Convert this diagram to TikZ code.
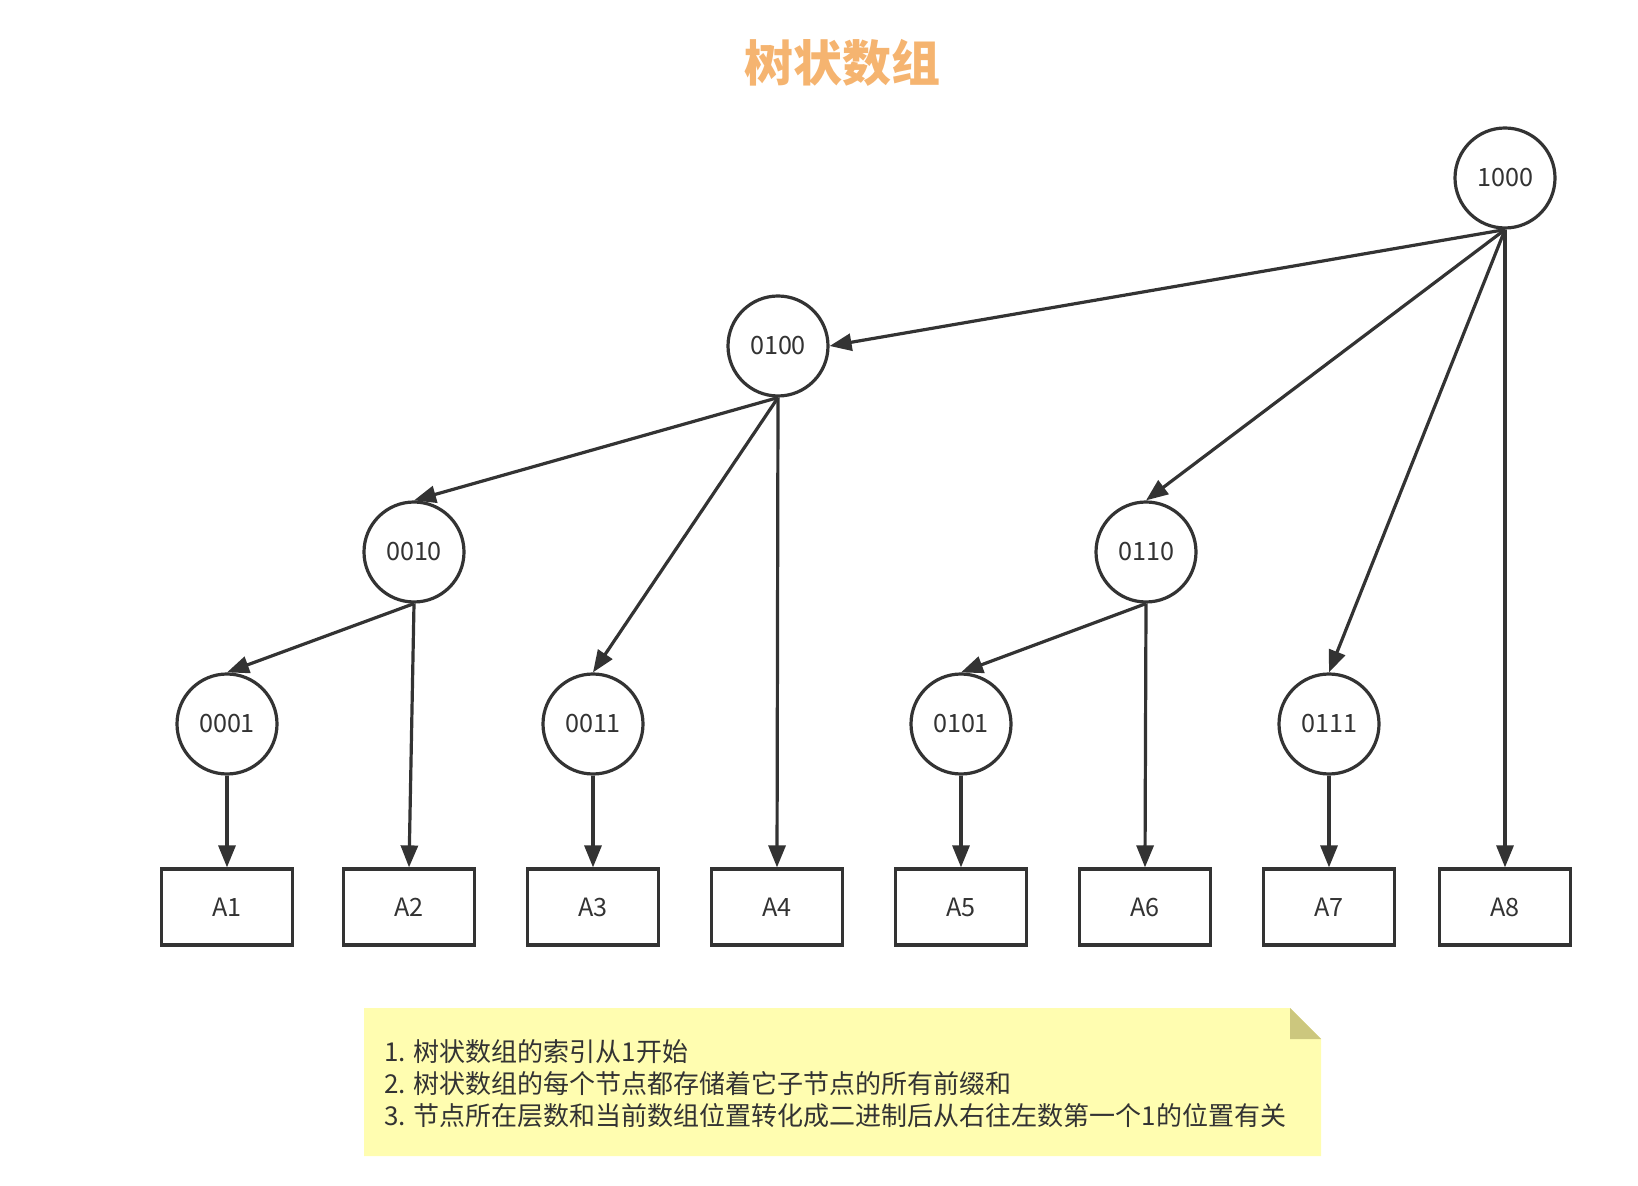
\documentclass[tikz,border=0pt]{standalone}
\usepackage{fontspec}
\setmainfont{Noto Sans CJK SC}
\usetikzlibrary{arrows.meta}
\definecolor{ink}{HTML}{333333}
\definecolor{titleorange}{HTML}{F5B470}
\definecolor{notefill}{HTML}{FFFDB0}
\definecolor{notefold}{HTML}{CCC77E}
\tikzset{
  bit/.style={circle, draw=ink, line width=1.6pt, minimum size=50pt, inner sep=0pt, text=ink, font=\fontsize{12.6pt}{14pt}\selectfont},
  cell/.style={rectangle, draw=ink, line width=1.6pt, minimum width=65.5pt, minimum height=38pt, inner sep=0pt, text=ink, font=\fontsize{12.6pt}{14pt}\selectfont},
  link/.style={-{Triangle[length=11pt,width=8.5pt]}, draw=ink, line width=1.6pt},
  title text/.style={font=\fontsize{24.5pt}{28pt}\selectfont\bfseries, text=titleorange},
  note text/.style={align=left, anchor=west, inner sep=0pt, text=ink, font=\fontsize{13pt}{16pt}\selectfont}
}

\begin{document}
\begin{tikzpicture}[x=0.5pt,y=-0.5pt]
  \useasboundingbox (0,0) rectangle (1638,1186);

  \node[title text] (title) at (842,63) {树状数组};

  % tree nodes
  \node[bit] (n1000) at (1505,178) {1000};
  \node[bit] (n0100) at (778,346) {0100};
  \node[bit] (n0010) at (414,552) {0010};
  \node[bit] (n0110) at (1146,552) {0110};
  \node[bit] (n0001) at (227,724) {0001};
  \node[bit] (n0011) at (593,724) {0011};
  \node[bit] (n0101) at (961,724) {0101};
  \node[bit] (n0111) at (1329,724) {0111};

  % array cells
  \node[cell] (a1) at (227,907) {A1};
  \node[cell] (a2) at (409,907) {A2};
  \node[cell] (a3) at (593,907) {A3};
  \node[cell] (a4) at (777,907) {A4};
  \node[cell] (a5) at (961,907) {A5};
  \node[cell] (a6) at (1145,907) {A6};
  \node[cell] (a7) at (1329,907) {A7};
  \node[cell] (a8) at (1505,907) {A8};

  \draw[link] (n1000.south) -- (n0100.east);
  \draw[link] (n1000.south) -- (n0110.north);
  \draw[link] (n1000.south) -- (n0111.north);
  \draw[link] (n1000.south) -- (a8.north);

  \draw[link] (n0100.south) -- (n0010.north);
  \draw[link] (n0100.south) -- (n0011.north);
  \draw[link] (n0100.south) -- (a4.north);

  \draw[link] (n0010.south) -- (n0001.north);
  \draw[link] (n0010.south) -- (a2.north);
  \draw[link] (n0110.south) -- (n0101.north);
  \draw[link] (n0110.south) -- (a6.north);

  \draw[link] (n0001.south) -- (a1.north);
  \draw[link] (n0011.south) -- (a3.north);
  \draw[link] (n0101.south) -- (a5.north);
  \draw[link] (n0111.south) -- (a7.north);

  % note
  \fill[notefill] (364,1008) -- (1290,1008) -- (1321,1039) -- (1321,1156) -- (364,1156) -- cycle;
  \fill[notefold] (1290,1008) -- (1290,1039) -- (1321,1039) -- cycle;
  \node[note text] (note) at (384,1084)
    {1. 树状数组的索引从1开始\\
     2. 树状数组的每个节点都存储着它子节点的所有前缀和\\
     3. 节点所在层数和当前数组位置转化成二进制后从右往左数第一个1的位置有关};
\end{tikzpicture}
\end{document}
